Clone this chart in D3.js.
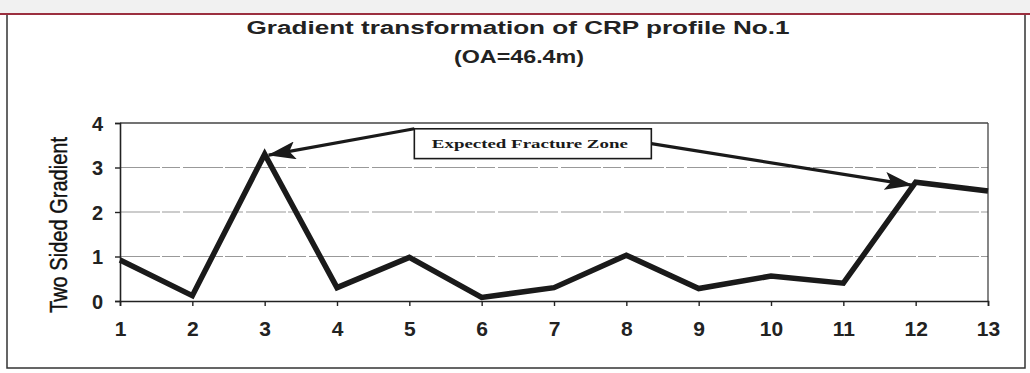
<!DOCTYPE html>
<html>
<head>
<meta charset="utf-8">
<script src="https://cdn.jsdelivr.net/npm/d3@7/dist/d3.min.js"></script>
<style>
  html, body { margin: 0; padding: 0; background: #fff; }
  svg { display: block; }
</style>
</head>
<body>
<svg id="chart" width="1030" height="373"></svg>
<script>
// Station numbers along the CRP profile
const stations = ["1","2","3","4","5","6","7","8","9","10","11","12","13"];
// Two-sided gradient at each station
const gradient = [0.92, 0.12, 3.3, 0.3, 0.98, 0.08, 0.3, 1.03, 0.28, 0.56, 0.4, 2.67, 2.47];
// Y-axis ticks
const yTicks = [0, 1, 2, 3, 4];
// Stations flagged as the expected fracture zone
const fractureStations = ["3", "12"];

const titleLines = ["Gradient transformation of CRP profile No.1", "(OA=46.4m)"];
const yLabel = "Two Sided Gradient";
const calloutText = "Expected Fracture Zone";

const svg = d3.select("#chart");
const W = 1030, H = 373;
const plot = { left: 120, right: 988, top: 123, bottom: 301 };

const x = d3.scalePoint().domain(stations).range([plot.left, plot.right]);
const y = d3.scaleLinear().domain([0, 4]).range([plot.bottom, plot.top]);

// page background and scan edge
svg.append("rect").attr("width", W).attr("height", H).attr("fill", "#fff");
svg.append("rect").attr("x", 0).attr("y", 0).attr("width", W).attr("height", 13).attr("fill", "#f1f1f1");
svg.append("rect").attr("x", 7).attr("y", 14).attr("width", 1018).attr("height", 354)
  .attr("fill", "none").attr("stroke", "#333").attr("stroke-width", 1.5);
svg.append("line").attr("x1", 0).attr("x2", W).attr("y1", 14).attr("y2", 14)
  .attr("stroke", "#9b2f3f").attr("stroke-width", 2);

// title
svg.append("text").attr("x", 518).attr("y", 34).attr("text-anchor", "middle")
  .attr("font-family", "Liberation Sans, Arial, sans-serif").attr("font-weight", "bold")
  .attr("font-size", 18).attr("fill", "#222")
  .attr("textLength", 543).attr("lengthAdjust", "spacingAndGlyphs")
  .text(titleLines[0]);
svg.append("text").attr("x", 519).attr("y", 63).attr("text-anchor", "middle")
  .attr("font-family", "Liberation Sans, Arial, sans-serif").attr("font-weight", "bold")
  .attr("font-size", 18).attr("fill", "#222")
  .attr("textLength", 130).attr("lengthAdjust", "spacingAndGlyphs")
  .text(titleLines[1]);

// horizontal gridlines
svg.append("g").selectAll("line").data(yTicks.filter(d => d > 0)).join("line")
  .attr("x1", plot.left).attr("x2", plot.right)
  .attr("y1", d => y(d)).attr("y2", d => y(d))
  .attr("stroke", d => d === 4 ? "#444" : "#999")
  .attr("stroke-width", d => d === 4 ? 1.3 : 1.2)
  .attr("stroke-dasharray", d => d === 4 ? null : "40,2,18,3");

// right frame edge
svg.append("line").attr("x1", plot.right).attr("x2", plot.right)
  .attr("y1", plot.top).attr("y2", plot.bottom).attr("stroke", "#444").attr("stroke-width", 1.3);

// axes
const yAxis = svg.append("g").attr("transform", `translate(${plot.left},0)`)
  .call(d3.axisLeft(y).tickValues(yTicks).tickSize(5).tickPadding(12).tickFormat(d3.format("d")));
const xAxis = svg.append("g").attr("transform", `translate(0,${plot.bottom})`)
  .call(d3.axisBottom(x).tickSize(5).tickPadding(15));
[yAxis, xAxis].forEach(g => {
  g.attr("font-size", null).attr("font-family", null);
  g.select(".domain").attr("stroke", "#222").attr("stroke-width", 1.6);
  g.selectAll(".tick line").attr("stroke", "#222").attr("stroke-width", 1.4);
  g.selectAll(".tick text")
    .style("font-family", "'Liberation Sans', Arial, sans-serif")
    .style("font-weight", "bold").attr("fill", "#222");
});
xAxis.selectAll(".tick text").style("font-size", "21px");
yAxis.selectAll(".tick text").style("font-size", "20px").attr("dy", "0.36em");

// y-axis title
svg.append("text")
  .attr("transform", `translate(67,225) rotate(-90)`)
  .attr("text-anchor", "middle")
  .attr("font-family", "Liberation Sans Narrow, Arial Narrow, sans-serif")
  .attr("font-size", 23).attr("fill", "#111")
  .attr("stroke", "#111").attr("stroke-width", 0.4)
  .attr("textLength", 176).attr("lengthAdjust", "spacingAndGlyphs")
  .text(yLabel);

// gradient profile line
const line = d3.line().x((d, i) => x(stations[i])).y(d => y(d));
svg.append("path").datum(gradient)
  .attr("d", line)
  .attr("fill", "none").attr("stroke", "#1a1a1a").attr("stroke-width", 5.5)
  .attr("stroke-linejoin", "miter").attr("stroke-miterlimit", 3);

// callout box pointing at the fracture-zone stations
const boxX0 = x("5") + 5, boxX1 = x("8") + 25;
const boxY0 = y(3.87), boxY1 = y(3.2);
const defs = svg.append("defs");
defs.append("marker").attr("id", "head").attr("viewBox", "0 0 28 18")
  .attr("refX", 27).attr("refY", 9).attr("markerWidth", 28).attr("markerHeight", 18)
  .attr("markerUnits", "userSpaceOnUse").attr("orient", "auto")
  .append("path").attr("d", "M0,0 L28,9 L0,18 L6,9 Z").attr("fill", "#1a1a1a");

const starts = [[boxX0, boxY0], [boxX1, (boxY0 + boxY1) / 2]];
const tipOffsets = [[4, 1], [-4, 3]];
svg.append("g").selectAll("line").data(fractureStations).join("line")
  .attr("x1", (d, i) => starts[i][0]).attr("y1", (d, i) => starts[i][1])
  .attr("x2", (d, i) => x(d) + tipOffsets[i][0])
  .attr("y2", (d, i) => y(gradient[stations.indexOf(d)]) + tipOffsets[i][1])
  .attr("stroke", "#1a1a1a").attr("stroke-width", 3.2)
  .attr("marker-end", "url(#head)");

svg.append("rect").attr("x", boxX0).attr("y", boxY0)
  .attr("width", boxX1 - boxX0).attr("height", boxY1 - boxY0)
  .attr("fill", "#fff").attr("stroke", "#1a1a1a").attr("stroke-width", 1.6);
svg.append("text").attr("x", (boxX0 + boxX1) / 2 - 3).attr("y", (boxY0 + boxY1) / 2 + 4.5)
  .attr("text-anchor", "middle")
  .attr("font-family", "Liberation Serif, Times New Roman, serif").attr("font-weight", "bold")
  .attr("font-size", 13).attr("fill", "#1a1a1a")
  .attr("textLength", 196).attr("lengthAdjust", "spacingAndGlyphs")
  .text(calloutText);
</script>
</body>
</html>
